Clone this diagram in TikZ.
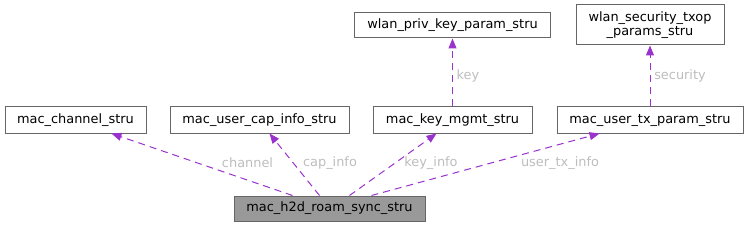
\documentclass[tikz,border=0pt]{standalone}
\usepackage{fontspec}
\setmainfont{DejaVu Sans}
\usetikzlibrary{arrows.meta}
\definecolor{edgec}{HTML}{9A32CD}
\definecolor{labc}{HTML}{BDBDBD}
\definecolor{boxc}{HTML}{666666}
\definecolor{rootc}{HTML}{999999}
\begin{document}
\begin{tikzpicture}[x=1pt,y=-1pt,
  box/.style={draw=boxc,line width=1pt,fill=white,inner sep=0pt,align=center,
    font=\fontsize{12.9}{14.5}\selectfont},
  rootbox/.style={box,fill=rootc},
  rel/.style={draw=edgec,line width=1pt,dash pattern=on 7pt off 5pt,
    -{Triangle[length=10pt,width=8pt]}},
  lab/.style={text=labc,font=\fontsize{12.9}{14.5}\selectfont,inner sep=1pt}]
\useasboundingbox (0,0) rectangle (749,227);
\node[box,minimum width=141pt,minimum height=26pt] (chan) at (75.5,120) {mac\_channel\_stru};
\node[box,minimum width=179pt,minimum height=26pt] (cap) at (259.5,120) {mac\_user\_cap\_info\_stru};
\node[box,minimum width=159pt,minimum height=26pt] (km) at (452.5,120) {mac\_key\_mgmt\_stru};
\node[box,minimum width=186pt,minimum height=26pt] (tx) at (650,120) {mac\_user\_tx\_param\_stru};
\node[box,minimum width=196pt,minimum height=25pt] (priv) at (452.5,25.5) {wlan\_priv\_key\_param\_stru};
\node[box,minimum width=148pt,minimum height=40pt] (sec) at (650,25) {wlan\_security\_txop\\\_params\_stru};
\node[rootbox,minimum width=191pt,minimum height=25pt] (root) at (329.5,208.5) {mac\_h2d\_roam\_sync\_stru};
\draw[rel] ([xshift=59pt]root.north west) -- ([xshift=107pt]chan.south west);
\draw[rel] ([xshift=86pt]root.north west) -- ([xshift=100pt]cap.south west);
\draw[rel] ([xshift=116pt]root.north west) -- ([xshift=64pt]km.south west);
\draw[rel] ([xshift=138pt]root.north west) -- ([xshift=43pt]tx.south west);
\draw[rel] (km.north) -- (priv.south);
\draw[rel] (tx.north) -- (sec.south);
\node[lab] (l1) at (247.5,163) {channel};
\node[lab] (l2) at (330,163) {cap\_info};
\node[lab] (l3) at (431,163) {key\_info};
\node[lab] (l4) at (560,163) {user\_tx\_info};
\node[lab] (l5) at (468,76) {key};
\node[lab] (l6) at (680,76) {security};
\end{tikzpicture}
\end{document}
